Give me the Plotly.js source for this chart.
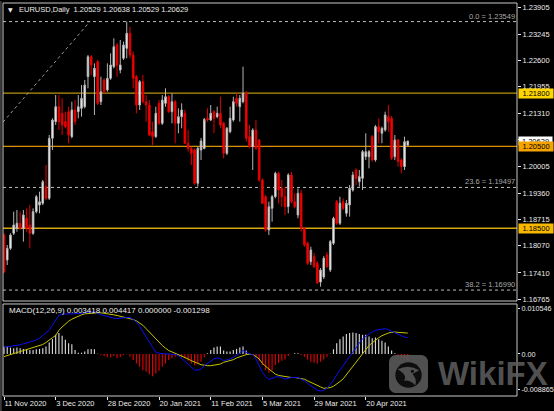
<!DOCTYPE html>
<html>
<head>
<meta charset="utf-8">
<script src="https://cdn.plot.ly/plotly-3.0.1.min.js"></script>
<style>html,body{margin:0;padding:0;background:#000;}#chart{width:554px;height:411px;}</style>
</head>
<body>
<div id="chart"></div>
<script>
// ---- data (EURUSD daily, 11 Nov 2020 - 7 May 2021) ----
const open = [1.18336,1.17725,1.18010,1.18377,1.18498,1.18621,1.18498,1.18743,1.18580,1.18377,
1.18905,1.19068,1.19109,1.19516,1.19232,1.20698,1.21104,1.21470,1.21308,1.21104,
1.21348,1.20738,1.21389,1.21348,1.21430,1.21470,1.22203,1.22691,1.22203,1.22569,
1.21592,1.22122,1.21878,1.22163,1.22447,1.22977,1.22366,1.22651,1.22896,1.23262,
1.22732,1.22203,1.21511,1.22081,1.21592,1.21511,1.20859,1.20738,1.21552,1.21064,
1.21552,1.21714,1.21348,1.21592,1.21064,1.21226,1.21308,1.20576,1.20453,1.20412,
1.19598,1.20412,1.20449,1.21186,1.21145,1.21348,1.21226,1.21308,1.21064,1.20331,
1.20859,1.21145,1.21674,1.21470,1.21592,1.21797,1.20738,1.20494,1.20901,1.20656,
1.19679,1.19271,1.18458,1.18987,1.19271,1.19842,1.19476,1.19271,1.19027,1.19801,
1.19149,1.18824,1.19354,1.18498,1.18132,1.17684,1.17806,1.17644,1.17187,1.17310,
1.17847,1.17481,1.18132,1.19149,1.18621,1.19149,1.18865,1.19068,1.19435,1.19923,
1.19637,1.19720,1.20249,1.20249,1.20738,1.20168,1.20982,1.20820,1.20901,1.21226,
1.21186,1.20249,1.20656,1.20168,1.20005,1.20529];
const high = [1.18377,1.18091,1.18377,1.18905,1.18946,1.18905,1.18946,1.18987,1.19068,1.18987,
1.19313,1.19394,1.19679,1.20046,1.20778,1.21186,1.21755,1.21755,1.21674,1.21348,
1.21470,1.21592,1.21633,1.21755,1.22000,1.22122,1.22732,1.22732,1.22529,1.22610,
1.22203,1.22163,1.22529,1.22773,1.23141,1.23026,1.23099,1.23058,1.23549,1.23424,
1.22814,1.22244,1.22122,1.22244,1.21755,1.21633,1.21104,1.21470,1.21633,1.21755,
1.21919,1.21755,1.21797,1.21633,1.21430,1.21552,1.21389,1.20901,1.20494,1.20453,
1.20494,1.20705,1.21196,1.21430,1.21511,1.21389,1.21470,1.21714,1.21104,1.20974,
1.21470,1.21714,1.21797,1.21755,1.22447,1.21853,1.21023,1.20942,1.21145,1.20680,
1.19719,1.19313,1.19149,1.19313,1.19882,1.19882,1.19679,1.19516,1.19842,1.19882,
1.19354,1.19476,1.19435,1.18531,1.18173,1.18050,1.17895,1.17700,1.17530,1.17820,
1.17920,1.18213,1.18783,1.19191,1.19271,1.19232,1.19191,1.19557,1.19882,1.19964,
1.19923,1.20412,1.20820,1.20412,1.20778,1.21023,1.21186,1.20982,1.21348,1.21511,
1.21243,1.20778,1.20680,1.20209,1.20738,1.20638];
const low = [1.17400,1.17603,1.17969,1.18336,1.18416,1.18458,1.18173,1.18416,1.18010,1.18336,
1.18865,1.18865,1.19068,1.19191,1.19191,1.20412,1.21023,1.20901,1.20778,1.20942,
1.20576,1.20698,1.21023,1.21186,1.21226,1.21430,1.21919,1.22244,1.21267,1.21511,
1.21511,1.21797,1.21836,1.22122,1.22407,1.22203,1.22285,1.22610,1.22651,1.22651,
1.21919,1.21308,1.21389,1.21552,1.21104,1.20754,1.20534,1.20705,1.21023,1.21023,
1.21470,1.21316,1.21064,1.20576,1.20820,1.20942,1.20559,1.20371,1.20046,1.19557,
1.19516,1.20168,1.20430,1.21104,1.21120,1.20820,1.21186,1.20942,1.20209,1.20290,
1.20820,1.21104,1.21470,1.21104,1.21552,1.20616,1.20453,1.19923,1.20412,1.19637,
1.19093,1.18416,1.18336,1.18661,1.19232,1.19109,1.19027,1.18824,1.18865,1.19109,
1.18987,1.18743,1.18416,1.18050,1.17603,1.17603,1.17530,1.17140,1.17073,1.17260,
1.17530,1.17432,1.18091,1.18580,1.18580,1.18946,1.18783,1.18783,1.19394,1.19557,
1.19516,1.19435,1.20168,1.19964,1.20127,1.20127,1.20576,1.20576,1.20859,1.20859,
1.20168,1.20168,1.20005,1.19842,1.19923,1.20529];
const close = [1.17432,1.18010,1.18336,1.18580,1.18621,1.18498,1.18824,1.18498,1.18377,1.18905,
1.19271,1.19149,1.19637,1.19232,1.20698,1.21145,1.21470,1.21104,1.21023,1.20982,
1.20778,1.21389,1.21104,1.21470,1.21674,1.22000,1.22691,1.22488,1.22407,1.21552,
1.21836,1.21836,1.22163,1.22488,1.22936,1.22488,1.22488,1.22977,1.23262,1.22732,
1.22163,1.21511,1.22081,1.21592,1.21511,1.20778,1.20738,1.21308,1.21064,1.21633,
1.21714,1.21348,1.21592,1.21064,1.21226,1.21389,1.20576,1.20453,1.20331,1.19598,
1.20453,1.20632,1.21157,1.21145,1.21308,1.21186,1.21308,1.21023,1.20331,1.20942,
1.21186,1.21592,1.21552,1.21674,1.21797,1.20698,1.20494,1.20901,1.20453,1.19679,
1.19109,1.18458,1.19027,1.19271,1.19842,1.19435,1.19271,1.19027,1.19801,1.19149,
1.19027,1.19354,1.18498,1.18091,1.17644,1.17969,1.17562,1.17163,1.17481,1.17766,
1.17562,1.18173,1.18743,1.18621,1.19109,1.18987,1.19109,1.19476,1.19801,1.19720,
1.19760,1.20371,1.20371,1.20371,1.20168,1.20982,1.20859,1.20942,1.21267,1.21104,
1.20209,1.20656,1.20127,1.20005,1.20616,1.20629];

const macdMain = [0.00144,0.00151,0.00165,0.00179,0.00186,0.00193,0.00215,0.00229,0.00243,0.00272,
0.00300,0.00336,0.00392,0.00442,0.00499,0.00606,0.00712,0.00819,0.00840,0.00840,
0.00840,0.00840,0.00840,0.00847,0.00855,0.00869,0.00883,0.00890,0.00890,0.00855,
0.00826,0.00812,0.00790,0.00769,0.00755,0.00748,0.00748,0.00762,0.00769,0.00769,
0.00727,0.00677,0.00584,0.00464,0.00357,0.00250,0.00144,0.00037,0.00016,0.00001,
0.00001,0.00001,0.00001,-0.00013,-0.00034,-0.00105,-0.00155,-0.00212,-0.00283,-0.00340,
-0.00340,-0.00319,-0.00247,-0.00198,-0.00141,-0.00105,-0.00084,-0.00098,-0.00141,-0.00127,
-0.00105,-0.00070,-0.00034,0.00016,0.00073,0.00037,0.00001,-0.00013,-0.00105,-0.00247,
-0.00390,-0.00482,-0.00532,-0.00518,-0.00482,-0.00482,-0.00496,-0.00532,-0.00511,-0.00496,
-0.00496,-0.00496,-0.00532,-0.00567,-0.00624,-0.00674,-0.00724,-0.00766,-0.00781,-0.00766,
-0.00724,-0.00638,-0.00553,-0.00439,-0.00340,-0.00226,-0.00141,-0.00055,0.00037,0.00144,
0.00229,0.00321,0.00371,0.00428,0.00464,0.00499,0.00513,0.00535,0.00535,0.00513,
0.00478,0.00450,0.00414,0.00385,0.00357,0.00342];
const macdSignal = [-0.00055,-0.00034,-0.00013,0.00001,0.00023,0.00051,0.00073,0.00087,0.00108,0.00122,
0.00144,0.00172,0.00200,0.00243,0.00286,0.00343,0.00392,0.00499,0.00570,0.00641,
0.00691,0.00734,0.00769,0.00798,0.00826,0.00847,0.00855,0.00862,0.00869,0.00869,
0.00869,0.00862,0.00847,0.00840,0.00826,0.00812,0.00798,0.00783,0.00769,0.00748,
0.00727,0.00698,0.00656,0.00606,0.00535,0.00464,0.00378,0.00300,0.00236,0.00179,
0.00122,0.00073,0.00044,0.00016,-0.00006,-0.00034,-0.00070,-0.00105,-0.00141,-0.00176,
-0.00198,-0.00226,-0.00240,-0.00247,-0.00247,-0.00240,-0.00233,-0.00212,-0.00176,-0.00162,
-0.00141,-0.00120,-0.00084,-0.00055,-0.00034,-0.00013,-0.00006,-0.00013,-0.00055,-0.00105,
-0.00198,-0.00269,-0.00319,-0.00368,-0.00425,-0.00453,-0.00467,-0.00482,-0.00489,-0.00496,
-0.00496,-0.00503,-0.00518,-0.00532,-0.00567,-0.00603,-0.00638,-0.00674,-0.00695,-0.00724,
-0.00724,-0.00710,-0.00681,-0.00638,-0.00582,-0.00525,-0.00439,-0.00354,-0.00269,-0.00176,
-0.00084,0.00001,0.00087,0.00179,0.00236,0.00300,0.00343,0.00385,0.00420,0.00442,
0.00456,0.00464,0.00456,0.00449,0.00442,0.00442];
const macdHist = [0.00156,0.00156,0.00135,0.00121,0.00135,0.00121,0.00107,0.00100,0.00085,0.00085,
0.00100,0.00107,0.00121,0.00156,0.00242,0.00313,0.00405,0.00441,0.00384,0.00299,
0.00228,0.00206,0.00085,0.00028,0.00028,0.00050,0.00100,0.00107,0.00100,0.00007,
-0.00028,-0.00043,-0.00071,-0.00071,-0.00043,-0.00092,-0.00071,-0.00021,-0.00007,-0.00057,
-0.00128,-0.00199,-0.00270,-0.00341,-0.00377,-0.00427,-0.00469,-0.00412,-0.00356,-0.00270,
-0.00199,-0.00128,-0.00092,-0.00057,-0.00043,-0.00057,-0.00092,-0.00142,-0.00199,-0.00235,
-0.00213,-0.00164,-0.00071,0.00014,0.00085,0.00135,0.00156,0.00156,0.00071,0.00050,
0.00050,0.00085,0.00107,0.00135,0.00156,0.00071,0.00003,-0.00021,-0.00071,-0.00142,
-0.00235,-0.00341,-0.00398,-0.00341,-0.00235,-0.00185,-0.00142,-0.00114,-0.00043,-0.00003,
0.00014,0.00014,-0.00021,-0.00057,-0.00114,-0.00164,-0.00185,-0.00199,-0.00164,-0.00114,
-0.00057,0.00003,0.00100,0.00228,0.00313,0.00370,0.00420,0.00441,0.00455,0.00441,
0.00420,0.00405,0.00405,0.00370,0.00334,0.00348,0.00313,0.00277,0.00242,0.00156,
0.00071,0.00014,-0.00057,-0.00092,-0.00092,-0.00128];

const dateTickIdx = [0,16,32,48,64,80,96,112];
const dateTickLabels = ['11 Nov 2020','3 Dec 2020','28 Dec 2020','20 Jan 2021','11 Feb 2021','5 Mar 2021','29 Mar 2021','20 Apr 2021'];
const priceTicks = [1.23905,1.23245,1.22600,1.21955,1.21310,1.20665,1.20005,1.19360,1.18715,1.18070,1.17410,1.16765];
const macdTickPos = [0.0096,0,-0.0075];
const macdTickLabels = ['0.010546','0.00','-0.008865'];
const levels = [1.21800,1.20500,1.18500];
const fibLevels = [1.23549,1.19497,1.16990];
const fibLabels = ['0.0 = 1.23549','23.6 = 1.19497','38.2 = 1.16990'];
const lastPrice = 1.20629;
const titleText = 'EURUSD,Daily  1.20529 1.20638 1.20529 1.20629';
const macdText = 'MACD(12,26,9) 0.003418 0.004417 0.000000 -0.001298';

// ---- drawing ----
const idx = close.map((_, i) => i);
const FONT = 'Liberation Sans, Arial, sans-serif';
const TXT = '#ececec';

const traces = [
  {type:'candlestick', x:idx, open:open, high:high, low:low, close:close, xaxis:'x', yaxis:'y',
   increasing:{line:{color:'#b4b4b4', width:1}, fillcolor:'#ffffff'},
   decreasing:{line:{color:'#e00000', width:1}, fillcolor:'#ff0000'},
   whiskerwidth:0, hoverinfo:'skip'},
  {type:'bar', x:idx, y:macdHist, xaxis:'x', yaxis:'y2', width:0.36,
   marker:{color:macdHist.map(v => v >= 0 ? '#d4d4d4' : '#e00000'), line:{width:0}}, hoverinfo:'skip'},
  {type:'scatter', mode:'lines', x:idx, y:macdSignal, xaxis:'x', yaxis:'y2',
   line:{color:'#c8c400', width:1}, hoverinfo:'skip'},
  {type:'scatter', mode:'lines', x:idx, y:macdMain, xaxis:'x', yaxis:'y2',
   line:{color:'#0a10f0', width:1}, hoverinfo:'skip'}
];

const levelColors = ['#b8940c','#dc9000','#d6a60a'];
const boxColors = ['#ffd400','#f5a300','#f8b800'];
const shapes = [];
levels.forEach((v, k) => shapes.push({type:'line', xref:'paper', yref:'y', x0:0, x1:1, y0:v, y1:v,
  line:{color:levelColors[k], width:1.3}, layer:'below'}));
fibLevels.forEach(v => shapes.push({type:'line', xref:'paper', yref:'y', x0:0, x1:1, y0:v, y1:v,
  line:{color:'#bdbdbd', width:1, dash:'3px,3px'}, layer:'below'}));
// fibonacci trend line (from off-chart swing low up to the 0.0 level)
shapes.push({type:'line', xref:'x', yref:'y', x0:-0.31, y0:1.21093, x1:26.6, y1:fibLevels[0],
  line:{color:'#9a9a9a', width:1, dash:'3px,3px'}, layer:'below'});
// panel frames
const PRICE_BOTTOM = 0.24173, MACD_TOP = 0.2341;
shapes.push({type:'rect', xref:'paper', yref:'paper', x0:0, x1:1, y0:PRICE_BOTTOM, y1:1, line:{color:'#c8c8c8', width:1}});
shapes.push({type:'rect', xref:'paper', yref:'paper', x0:0, x1:1, y0:0, y1:MACD_TOP, line:{color:'#c8c8c8', width:1}});
shapes.push({type:'line', xref:'paper', yref:'paper', x0:-0.004, x1:-0.004, y0:-0.04, y1:1.005, line:{color:'#6a6a6a', width:1}});

const annotations = [];
annotations.push({xref:'paper', yref:'paper', x:0.0058, y:0.9847, xanchor:'left', yanchor:'middle', text:'▼',
  showarrow:false, font:{family:'DejaVu Sans', size:6, color:TXT}});
annotations.push({xref:'paper', yref:'paper', x:0.0272, y:0.9847, xanchor:'left', yanchor:'middle', text:titleText,
  showarrow:false, font:{family:FONT, size:7.5, color:TXT}});
annotations.push({xref:'paper', yref:'paper', x:0.0078, y:0.2163, xanchor:'left', yanchor:'middle', text:macdText,
  showarrow:false, font:{family:FONT, size:8, color:TXT}});
fibLevels.forEach((v, k) => annotations.push({xref:'paper', yref:'y', x:0.9971, y:v, xanchor:'right', yanchor:'bottom',
  text:fibLabels[k], showarrow:false, font:{family:FONT, size:7.5, color:'#a8a8a8'}, borderpad:0}));
// current price label then level labels on the price scale
annotations.push({xref:'paper', yref:'y', x:1, xshift:1, y:lastPrice, xanchor:'left', yanchor:'middle',
  text:lastPrice.toFixed(5), showarrow:false, bgcolor:'#ffffff', width:33, height:8, borderpad:0,
  font:{family:FONT, size:7.5, color:'#000'}});
levels.forEach((v, k) => annotations.push({xref:'paper', yref:'y', x:1, xshift:1, y:v, xanchor:'left', yanchor:'middle',
  text:v.toFixed(5), showarrow:false, bgcolor:boxColors[k], width:33, height:8, borderpad:0.5,
  font:{family:FONT, size:7.5, color:'#000'}}));
// watermark
annotations.push({xref:'paper', yref:'paper', x:0.8424, y:0.0560, xanchor:'left', yanchor:'middle', text:'WikiFX',
  showarrow:false, font:{family:'Liberation Sans', size:33, weight:700, color:'rgba(92,92,92,0.9)'}});

const logoSvg = "<svg xmlns='http://www.w3.org/2000/svg' viewBox='0 0 40 40'>" +
  "<rect x='0' y='0' width='40' height='40' rx='7' ry='7' fill='#5c5c5c'/>" +
  "<circle cx='20' cy='21' r='13.5' fill='#101010'/>" +
  "<path d='M9 15 Q20 9 31 16 L24 20 Q29 25 27 32 Q22 26 15 27 Q20 22 9 15 Z' fill='#5c5c5c'/>" +
  "<circle cx='24' cy='17' r='1.6' fill='#101010'/></svg>";

const layout = {
  width:554, height:411,
  margin:{l:3, r:37, t:3, b:15, pad:0},
  paper_bgcolor:'#000000', plot_bgcolor:'#000000',
  showlegend:false,
  font:{family:FONT, size:7.5, color:TXT},
  xaxis:{domain:[0,1], anchor:'y2', range:[-0.31,158.82], tickvals:dateTickIdx, ticktext:dateTickLabels,
    ticks:'outside', ticklen:3, tickcolor:TXT, tickwidth:1, ticklabelposition:'outside right',
    showgrid:false, zeroline:false, showline:false, rangeslider:{visible:false}, fixedrange:true,
    tickfont:{family:FONT, size:7.5, color:TXT}},
  yaxis:{domain:[PRICE_BOTTOM,1], anchor:'x', side:'right', range:[1.16723,1.24003],
    tickvals:priceTicks, ticktext:priceTicks.map(v => v.toFixed(5)),
    ticks:'outside', ticklen:3, tickcolor:TXT, showgrid:false, zeroline:false, showline:false, fixedrange:true,
    tickfont:{family:FONT, size:7.5, color:TXT}},
  yaxis2:{domain:[0,MACD_TOP], anchor:'x', side:'right', range:[-0.008865,0.010546],
    tickvals:macdTickPos, ticktext:macdTickLabels,
    ticks:'outside', ticklen:2, tickcolor:TXT, showgrid:false, zeroline:false, showline:false, fixedrange:true,
    ticklabelstandoff:0,
    tickfont:{family:FONT, size:7.2, color:TXT}},
  shapes:shapes,
  annotations:annotations,
  images:[{source:'data:image/svg+xml;charset=utf-8,' + encodeURIComponent(logoSvg),
    xref:'paper', yref:'paper', x:0.7510, y:0.1043, sizex:0.0759, sizey:0.0967,
    xanchor:'left', yanchor:'top', sizing:'stretch', layer:'above', opacity:0.88}]
};

Plotly.newPlot('chart', traces, layout, {staticPlot:true, displayModeBar:false});
</script>
</body>
</html>
